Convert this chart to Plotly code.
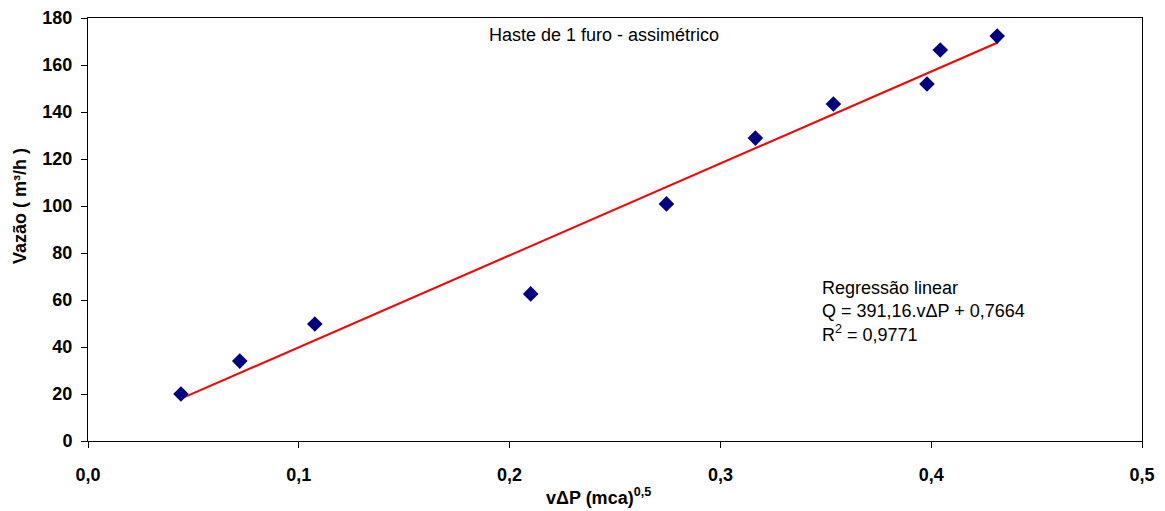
import plotly.graph_objects as go

# Data
x_vals = [0.0441, 0.0720, 0.1076, 0.2100, 0.2744, 0.3166, 0.3536, 0.3980, 0.4043, 0.4313]
q_vals = [20.0, 34.0, 49.8, 62.6, 100.9, 128.9, 143.4, 151.9, 166.4, 172.3]

# Regression line coefficients as stated on the chart
slope = 391.16
intercept = 0.7664
x_fit = [min(x_vals), max(x_vals)]
q_fit = [slope * v + intercept for v in x_fit]

x_ticks = [0, 0.1, 0.2, 0.3, 0.4, 0.5]
x_tick_labels = ["0,0", "0,1", "0,2", "0,3", "0,4", "0,5"]
y_ticks = [0, 20, 40, 60, 80, 100, 120, 140, 160, 180]

FONT = "Liberation Sans, Arial, sans-serif"

# page has an 8px body margin; plot area on screen: x 88..1142, y 18..441
OFF = 8
W, H = 1165 - OFF, 511 - OFF
PL, PR, PT, PB = 88, 1142, 18, 441


def px(sx):
    return (sx - PL) / (PR - PL)


def py(sy):
    return (PB - sy) / (PB - PT)


fig = go.Figure()
fig.add_trace(go.Scatter(
    x=x_fit, y=q_fit, mode="lines",
    line=dict(color="#ff0000", width=2), showlegend=False, hoverinfo="skip"))
fig.add_trace(go.Scatter(
    x=x_vals, y=q_vals, mode="markers",
    marker=dict(symbol="diamond", color="#000080", size=12, line=dict(width=0)),
    showlegend=False))

tickfont = dict(family=FONT, size=18, color="#000000")
axis_common = dict(
    showgrid=False, zeroline=False, showline=True, linecolor="#000000",
    linewidth=1, mirror=True, ticks="outside", ticklen=6, tickcolor="#000000",
    tickfont=tickfont, automargin=False,
)

fig.update_layout(
    width=W, height=H,
    margin=dict(l=PL - OFF, r=W - (PR - OFF), t=PT - OFF, b=H - (PB - OFF)),
    paper_bgcolor="#ffffff", plot_bgcolor="#ffffff",
    font=dict(family=FONT, color="#000000"),
    xaxis=dict(range=[0, 0.5], tickvals=x_ticks,
               ticktext=["<b>%s</b>" % t for t in x_tick_labels],
               ticklabelstandoff=11, **axis_common),
    yaxis=dict(range=[0, 180], tickvals=y_ticks,
               ticktext=["<b>%d</b>" % v for v in y_ticks],
               ticklabelstandoff=5, **axis_common),
    annotations=[
        dict(text="Haste de 1 furo - assimétrico", xref="paper", yref="paper",
             x=px(604), y=py(35), xanchor="center", yanchor="middle",
             showarrow=False, font=dict(family=FONT, size=18)),
        dict(text="Regressão linear<br>Q = 391,16.vΔP + 0,7664<br>R<sup>2</sup> = 0,9771",
             xref="paper", yref="paper", x=px(820), y=py(276),
             xanchor="left", yanchor="top", align="left", showarrow=False,
             font=dict(family=FONT, size=18)),
        dict(text="<b>vΔP (mca)<sup>0,5</sup></b>", xref="paper", yref="paper",
             x=px(598), y=py(496), xanchor="center", yanchor="middle",
             showarrow=False, font=dict(family=FONT, size=18)),
        dict(text="<b>Vazão ( m³/h )</b>", xref="paper", yref="paper",
             x=px(20), y=py(206), xanchor="center", yanchor="middle",
             textangle=-90, showarrow=False, font=dict(family=FONT, size=18)),
    ],
)

fig.write_html("out.html")
